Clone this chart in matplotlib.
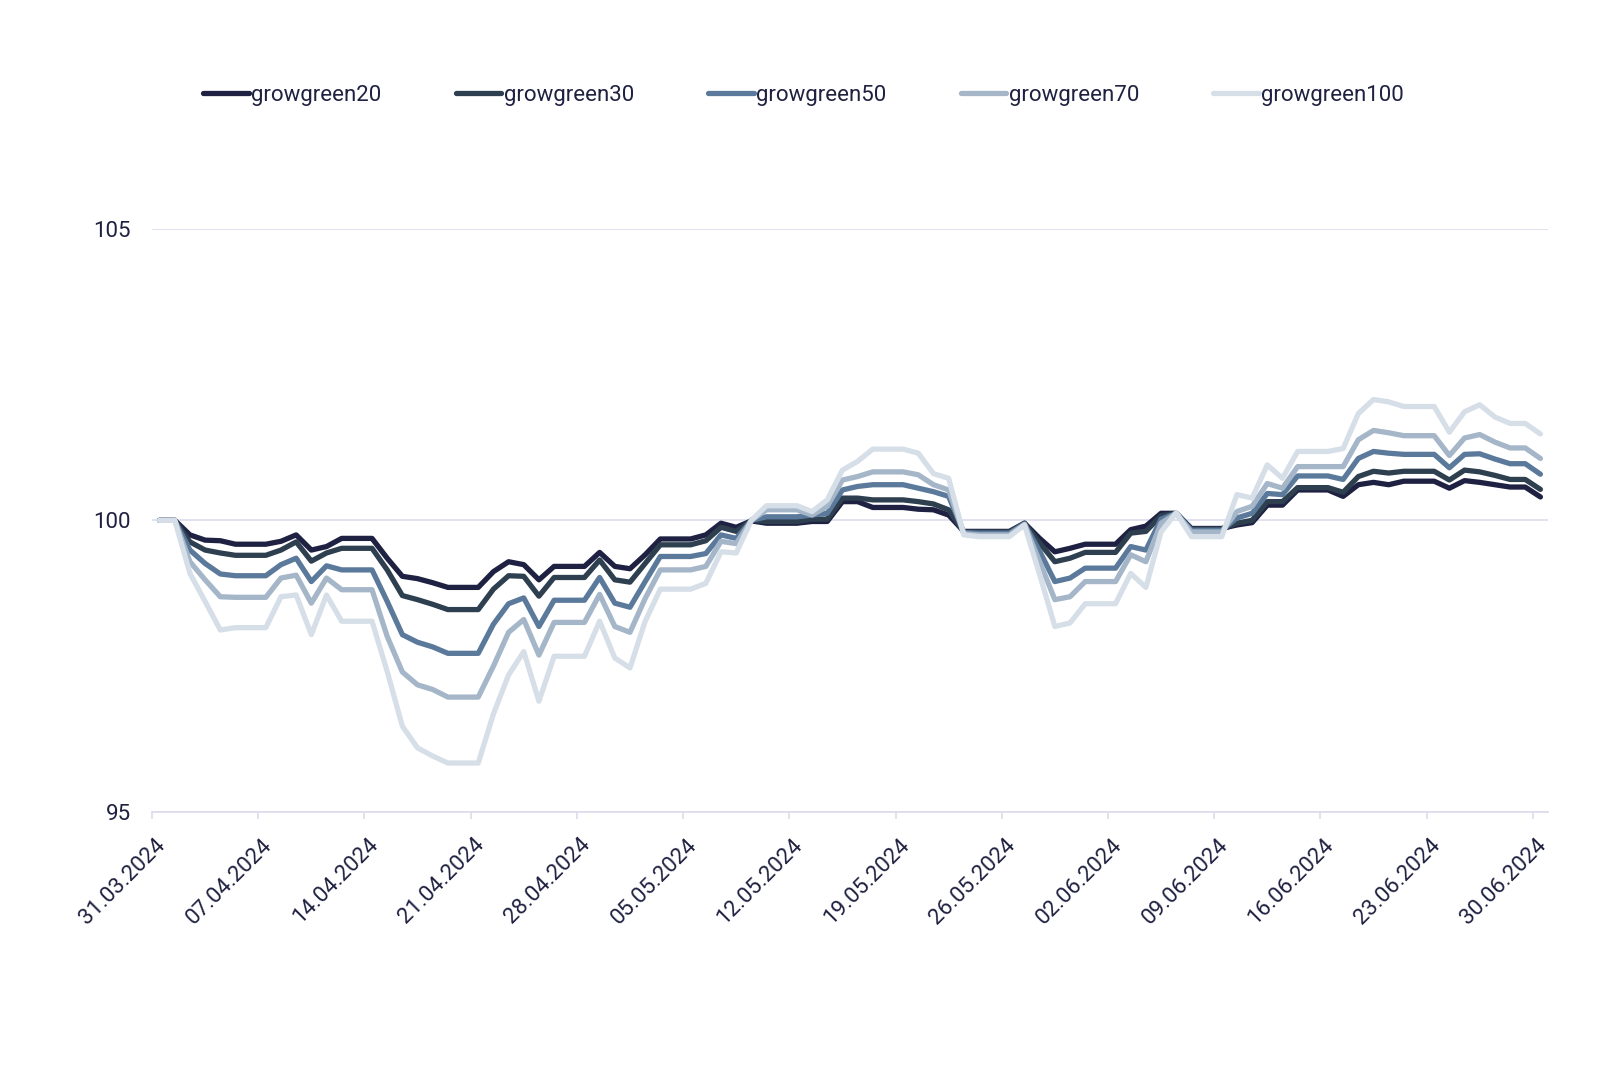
import matplotlib
matplotlib.use("Agg")
import matplotlib.pyplot as plt
import matplotlib.dates as mdates
import matplotlib.transforms as mtransforms
import pandas as pd

# daily values, 31.03.2024 .. 30.06.2024 (92 days)
growgreen20 = [
    100.00, 100.00, 99.75, 99.66, 99.65, 99.59, 99.59, 99.59, 99.64, 99.75,
    99.49, 99.55, 99.69, 99.69, 99.69, 99.35, 99.04, 99.00, 98.93, 98.85,
    98.85, 98.85, 99.12, 99.29, 99.24, 98.98, 99.21, 99.21, 99.21, 99.45,
    99.21, 99.17, 99.41, 99.68, 99.68, 99.68, 99.75, 99.95, 99.88, 99.99,
    99.95, 99.95, 99.95, 99.98, 99.98, 100.32, 100.32, 100.22, 100.22, 100.22,
    100.19, 100.18, 100.09, 99.81, 99.81, 99.81, 99.81, 99.95, 99.69, 99.46,
    99.52, 99.59, 99.59, 99.59, 99.84, 99.90, 100.12, 100.12, 99.86, 99.86,
    99.86, 99.92, 99.96, 100.26, 100.26, 100.52, 100.52, 100.52, 100.41, 100.61,
    100.65, 100.61, 100.67, 100.67, 100.67, 100.55, 100.68, 100.65, 100.61, 100.57,
    100.57, 100.40,
]
growgreen30 = [
    100.00, 100.00, 99.63, 99.49, 99.44, 99.40, 99.40, 99.40, 99.49, 99.63,
    99.30, 99.44, 99.52, 99.52, 99.52, 99.15, 98.71, 98.64, 98.56, 98.47,
    98.47, 98.47, 98.82, 99.05, 99.04, 98.70, 99.02, 99.02, 99.02, 99.32,
    98.98, 98.94, 99.26, 99.58, 99.58, 99.58, 99.65, 99.88, 99.81, 100.00,
    99.98, 99.98, 99.98, 100.02, 100.02, 100.38, 100.38, 100.35, 100.35, 100.35,
    100.32, 100.28, 100.18, 99.80, 99.80, 99.80, 99.80, 99.95, 99.61, 99.29,
    99.35, 99.45, 99.45, 99.45, 99.78, 99.81, 100.08, 100.12, 99.85, 99.85,
    99.85, 99.95, 100.00, 100.32, 100.32, 100.56, 100.56, 100.56, 100.48, 100.75,
    100.84, 100.81, 100.84, 100.84, 100.84, 100.69, 100.86, 100.83, 100.77, 100.70,
    100.70, 100.53,
]
growgreen50 = [
    100.00, 100.00, 99.49, 99.26, 99.08, 99.05, 99.05, 99.05, 99.24, 99.35,
    98.95, 99.22, 99.15, 99.15, 99.15, 98.61, 98.04, 97.91, 97.83, 97.72,
    97.72, 97.72, 98.22, 98.57, 98.67, 98.18, 98.63, 98.63, 98.63, 99.02,
    98.58, 98.51, 98.95, 99.38, 99.38, 99.38, 99.43, 99.75, 99.69, 100.00,
    100.06, 100.06, 100.06, 100.09, 100.12, 100.52, 100.58, 100.61, 100.61, 100.61,
    100.55, 100.49, 100.41, 99.79, 99.78, 99.78, 99.78, 99.94, 99.47, 98.95,
    99.01, 99.18, 99.18, 99.18, 99.55, 99.49, 100.02, 100.12, 99.83, 99.83,
    99.83, 100.04, 100.12, 100.46, 100.44, 100.76, 100.76, 100.76, 100.70, 101.06,
    101.18, 101.15, 101.13, 101.13, 101.13, 100.90, 101.13, 101.14, 101.05, 100.97,
    100.97, 100.79,
]
growgreen70 = [
    100.00, 100.00, 99.29, 98.98, 98.69, 98.68, 98.68, 98.68, 99.01, 99.06,
    98.58, 99.01, 98.81, 98.81, 98.81, 98.01, 97.40, 97.18, 97.10, 96.97,
    96.97, 96.97, 97.50, 98.08, 98.30, 97.69, 98.25, 98.25, 98.25, 98.73,
    98.18, 98.08, 98.66, 99.15, 99.15, 99.15, 99.21, 99.64, 99.60, 100.00,
    100.18, 100.18, 100.18, 100.09, 100.24, 100.69, 100.75, 100.83, 100.83, 100.83,
    100.78, 100.61, 100.52, 99.77, 99.75, 99.75, 99.75, 99.93, 99.29, 98.64,
    98.69, 98.95, 98.95, 98.95, 99.41, 99.29, 99.95, 100.12, 99.80, 99.80,
    99.80, 100.15, 100.24, 100.63, 100.55, 100.92, 100.92, 100.92, 100.92, 101.38,
    101.54, 101.50, 101.45, 101.45, 101.45, 101.11, 101.41, 101.47, 101.34, 101.24,
    101.24, 101.06,
]
growgreen100 = [
    100.00, 100.00, 99.09, 98.61, 98.12, 98.16, 98.16, 98.16, 98.69, 98.72,
    98.04, 98.72, 98.27, 98.27, 98.27, 97.41, 96.47, 96.10, 95.96, 95.84,
    95.84, 95.84, 96.68, 97.35, 97.75, 96.90, 97.67, 97.67, 97.67, 98.27,
    97.64, 97.47, 98.27, 98.82, 98.82, 98.82, 98.92, 99.46, 99.44, 100.00,
    100.25, 100.25, 100.25, 100.15, 100.35, 100.86, 101.01, 101.22, 101.22, 101.22,
    101.15, 100.80, 100.72, 99.75, 99.72, 99.72, 99.72, 99.92, 99.07, 98.18,
    98.24, 98.57, 98.57, 98.57, 99.09, 98.85, 99.80, 100.13, 99.72, 99.72,
    99.72, 100.44, 100.38, 100.95, 100.72, 101.18, 101.18, 101.18, 101.23, 101.83,
    102.07, 102.03, 101.95, 101.95, 101.95, 101.51, 101.86, 101.98, 101.77, 101.66,
    101.66, 101.48,
]

names = ["growgreen20", "growgreen30", "growgreen50", "growgreen70", "growgreen100"]
colors = ["#1e2142", "#2e3f4f", "#5b7a9b", "#a5b6c9", "#d6dfe8"]
series = [growgreen20, growgreen30, growgreen50, growgreen70, growgreen100]

dates = pd.date_range("2024-03-31 12:00", periods=len(growgreen20), freq="D")
week_ticks = pd.date_range("2024-03-31", "2024-06-30", freq="7D")

text_col = "#1f2140"
grid_col = "#dcdcee"
plt.rcParams["font.family"] = ["Roboto", "DejaVu Sans"]

fig = plt.figure(figsize=(16, 10.74), dpi=100)
ax = fig.add_axes([0.095, 0.2439, 0.8725, 0.5433])

for name, vals, c in zip(names, series, colors):
    ax.plot(dates, vals, color=c, lw=3.8, label=name,
            solid_joinstyle="round", solid_capstyle="round")

ax.set_ylim(95, 105)
ax.set_yticks([95, 100, 105])
ax.set_xlim(pd.Timestamp("2024-03-31"), pd.Timestamp("2024-07-01"))
ax.set_xticks(week_ticks)
ax.xaxis.set_major_formatter(mdates.DateFormatter("%d.%m.%Y"))

ax.grid(axis="y", color=grid_col, lw=1.2)
ax.grid(axis="x", visible=False)
for s in ["top", "right", "left"]:
    ax.spines[s].set_visible(False)
ax.spines["bottom"].set_color(grid_col)
ax.spines["bottom"].set_linewidth(1.2)
ax.set_axisbelow(True)

ax.tick_params(axis="y", length=0, pad=15, labelsize=16, labelcolor=text_col)
ax.tick_params(axis="x", length=5, width=1.2, color=grid_col, pad=11,
               labelsize=16, labelcolor=text_col)
shift = mtransforms.ScaledTranslation(3 / 100, 0, fig.dpi_scale_trans)
for lbl in ax.get_xticklabels():
    lbl.set_rotation(45)
    lbl.set_ha("right")
    lbl.set_va("top")
    lbl.set_rotation_mode("anchor")
    lbl.set_transform(lbl.get_transform() + shift)

leg = fig.legend(loc="center left", bbox_to_anchor=(0.127, 0.9115), ncol=5,
                 frameon=False, fontsize=16, handlelength=2.05, handletextpad=0.12,
                 columnspacing=3.33, borderpad=0, borderaxespad=0)
for t in leg.get_texts():
    t.set_color(text_col)
for h in leg.get_lines():
    h.set_linewidth(3.8)
    h.set_solid_capstyle("round")

fig.savefig("out.png", dpi=100)
